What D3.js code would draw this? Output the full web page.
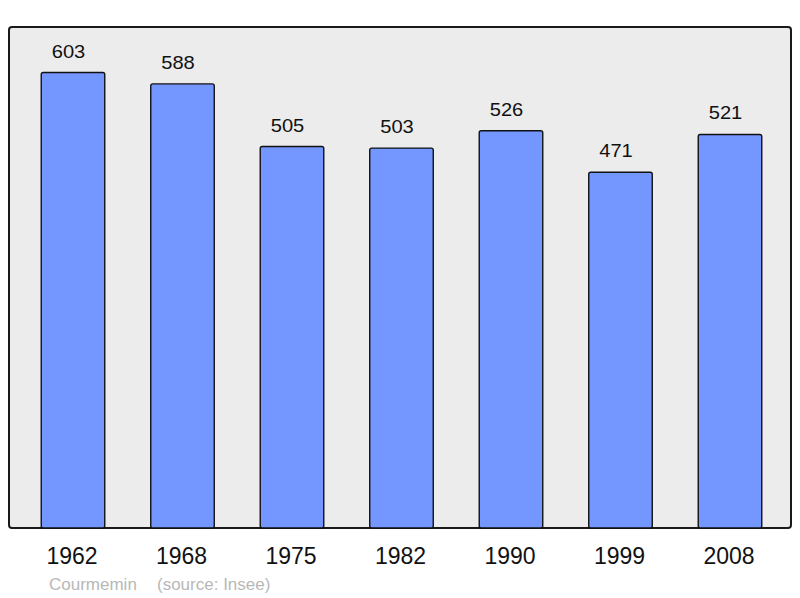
<!DOCTYPE html>
<html><head><meta charset="utf-8">
<script src="https://cdn.jsdelivr.net/npm/d3@7"></script>
<style>body{margin:0;background:#fff}svg{display:block}</style>
</head><body>
<script>
const years = ["1962","1968","1975","1982","1990","1999","2008"];
const population = [603,588,505,503,526,471,521];
const commune = "Courmemin";
const source = "(source: Insee)";

const W = 800, H = 598;
const svg = d3.select("body").append("svg").attr("width", W).attr("height", H);
const font = "'Liberation Sans', Arial, sans-serif";

svg.append("rect").attr("x", 9).attr("y", 27).attr("width", 782).attr("height", 501)
  .attr("rx", 3).attr("fill", "#ececec").attr("stroke", "#1a1a1a").attr("stroke-width", 2);

const x = d3.scaleBand().domain(years).range([18.25, 784.75]).paddingInner(0.42).paddingOuter(0.21);
const y = d3.scaleLinear().domain([0, d3.max(population) * 1.1]).range([528, 27]);

const data = years.map((yr, i) => ({yr, v: population[i]}));

svg.selectAll("rect.bar").data(data).join("rect").attr("class", "bar")
  .attr("x", d => x(d.yr)).attr("y", d => y(d.v))
  .attr("width", x.bandwidth()).attr("height", d => 528 - y(d.v))
  .attr("rx", 2).attr("fill", "#7396ff").attr("stroke", "#111").attr("stroke-width", 1.4);

svg.selectAll("text.val").data(data).join("text").attr("class", "val")
  .attr("transform", d => `translate(${x(d.yr) + x.bandwidth()/2 - 4.5},${y(d.v) - 15}) scale(1.15,1)`)
  .attr("text-anchor", "middle").attr("font-family", font).attr("font-size", 17.5)
  .attr("fill", "#111").text(d => d.v);

const xAxis = svg.append("g").attr("transform", "translate(0,528)")
  .call(d3.axisBottom(x).tickSize(0).tickPadding(0));
xAxis.select(".domain").remove();
xAxis.selectAll("text").attr("y", 36).attr("dy", null)
  .attr("transform", "translate(-1,0)")
  .attr("font-family", font).attr("font-size", 23).attr("fill", "#111");

svg.append("text").attr("x", 49).attr("y", 590).attr("font-family", font)
  .attr("font-size", 17).attr("fill", "#b8b8b8").text(commune);
svg.append("text").attr("x", 157).attr("y", 590).attr("font-family", font)
  .attr("font-size", 17).attr("fill", "#b8b8b8").text(source);
</script>
</body></html>
